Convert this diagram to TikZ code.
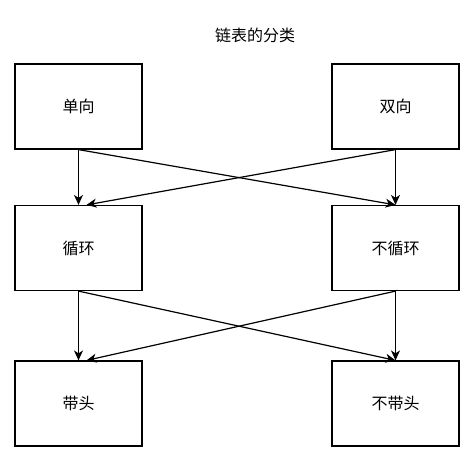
\documentclass[tikz,border=0pt]{standalone}
\usepackage{fontspec}
\newfontfamily\cjk{Noto Sans CJK SC}
\usetikzlibrary{arrows.meta}
\begin{document}
\begin{tikzpicture}[x=1pt,y=-1pt,
  box/.style={draw=black,line width=1.2pt,minimum width=127pt,minimum height=85pt,inner sep=0pt,font=\cjk\fontsize{16}{18}\selectfont},
  conn/.style={draw=black,line width=1.2pt,-{Stealth[length=10pt,width=9pt,inset=3pt]}}]
\useasboundingbox[fill=white] (0,0) rectangle (474,461);
\node[font=\cjk\fontsize{16}{18}\selectfont] (title) at (255,35) {链表的分类};
\node[box] (dx) at (78.5,106.5) {单向};
\node[box] (sx) at (395.5,106.5) {双向};
\node[box] (xh) at (78.5,248) {循环};
\node[box] (bxh) at (395.5,248) {不循环};
\node[box] (dt) at (78.5,403.5) {带头};
\node[box] (bdt) at (395.5,403.5) {不带头};
\draw[conn] (dx.south) -- (xh.north);
\draw[conn] (dx.south) -- (bxh.north);
\draw[conn] (sx.south) -- (bxh.north);
\draw[conn] (sx.south) -- ([xshift=8pt]xh.north);
\draw[conn] (xh.south) -- (dt.north);
\draw[conn] (xh.south) -- (bdt.north);
\draw[conn] (bxh.south) -- (bdt.north);
\draw[conn] (bxh.south) -- ([xshift=8pt]dt.north);
\end{tikzpicture}
\end{document}
